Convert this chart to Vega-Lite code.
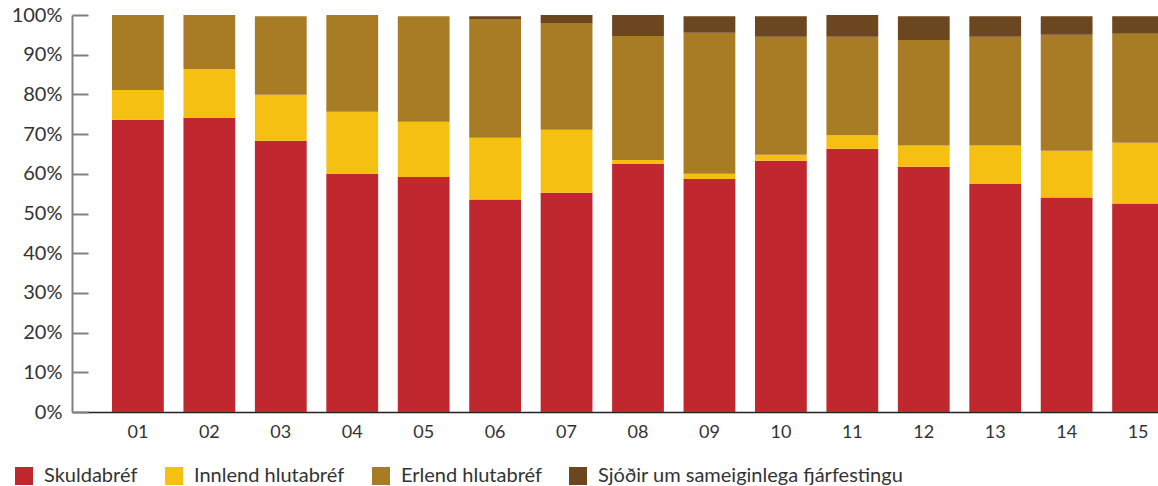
{
  "$schema": "https://vega.github.io/schema/vega-lite/v6.json",
  "autosize": {"type": "none"},
  "width": 1086,
  "height": 397,
  "padding": {"left": 72, "top": 15, "right": 0, "bottom": 74},
  "config": {
    "font": "Lato",
    "view": {"stroke": null},
    "axis": {"grid": false}
  },
  "data": {
    "values": [
      {"year": "01", "cat": "Skuldabréf", "v": 73.6},
      {"year": "01", "cat": "Innlend hlutabréf", "v": 7.5},
      {"year": "01", "cat": "Erlend hlutabréf", "v": 18.9},
      {"year": "02", "cat": "Skuldabréf", "v": 74.1},
      {"year": "02", "cat": "Innlend hlutabréf", "v": 12.3},
      {"year": "02", "cat": "Erlend hlutabréf", "v": 13.6},
      {"year": "03", "cat": "Skuldabréf", "v": 68.3},
      {"year": "03", "cat": "Innlend hlutabréf", "v": 11.6},
      {"year": "03", "cat": "Erlend hlutabréf", "v": 19.8},
      {"year": "04", "cat": "Skuldabréf", "v": 60.0},
      {"year": "04", "cat": "Innlend hlutabréf", "v": 15.6},
      {"year": "04", "cat": "Erlend hlutabréf", "v": 24.4},
      {"year": "05", "cat": "Skuldabréf", "v": 59.2},
      {"year": "05", "cat": "Innlend hlutabréf", "v": 13.9},
      {"year": "05", "cat": "Erlend hlutabréf", "v": 26.6},
      {"year": "06", "cat": "Skuldabréf", "v": 53.5},
      {"year": "06", "cat": "Innlend hlutabréf", "v": 15.6},
      {"year": "06", "cat": "Erlend hlutabréf", "v": 29.9},
      {"year": "06", "cat": "Sjóðir um sameiginlega fjárfestingu", "v": 0.7},
      {"year": "07", "cat": "Skuldabréf", "v": 55.2},
      {"year": "07", "cat": "Innlend hlutabréf", "v": 15.9},
      {"year": "07", "cat": "Erlend hlutabréf", "v": 26.9},
      {"year": "07", "cat": "Sjóðir um sameiginlega fjárfestingu", "v": 2.0},
      {"year": "08", "cat": "Skuldabréf", "v": 62.5},
      {"year": "08", "cat": "Innlend hlutabréf", "v": 1.0},
      {"year": "08", "cat": "Erlend hlutabréf", "v": 31.2},
      {"year": "08", "cat": "Sjóðir um sameiginlega fjárfestingu", "v": 5.3},
      {"year": "09", "cat": "Skuldabréf", "v": 58.7},
      {"year": "09", "cat": "Innlend hlutabréf", "v": 1.3},
      {"year": "09", "cat": "Erlend hlutabréf", "v": 35.5},
      {"year": "09", "cat": "Sjóðir um sameiginlega fjárfestingu", "v": 4.2},
      {"year": "10", "cat": "Skuldabréf", "v": 63.3},
      {"year": "10", "cat": "Innlend hlutabréf", "v": 1.5},
      {"year": "10", "cat": "Erlend hlutabréf", "v": 29.7},
      {"year": "10", "cat": "Sjóðir um sameiginlega fjárfestingu", "v": 5.2},
      {"year": "11", "cat": "Skuldabréf", "v": 66.3},
      {"year": "11", "cat": "Innlend hlutabréf", "v": 3.4},
      {"year": "11", "cat": "Erlend hlutabréf", "v": 24.8},
      {"year": "11", "cat": "Sjóðir um sameiginlega fjárfestingu", "v": 5.5},
      {"year": "12", "cat": "Skuldabréf", "v": 61.8},
      {"year": "12", "cat": "Innlend hlutabréf", "v": 5.3},
      {"year": "12", "cat": "Erlend hlutabréf", "v": 26.6},
      {"year": "12", "cat": "Sjóðir um sameiginlega fjárfestingu", "v": 6.0},
      {"year": "13", "cat": "Skuldabréf", "v": 57.4},
      {"year": "13", "cat": "Innlend hlutabréf", "v": 9.7},
      {"year": "13", "cat": "Erlend hlutabréf", "v": 27.4},
      {"year": "13", "cat": "Sjóðir um sameiginlega fjárfestingu", "v": 5.2},
      {"year": "14", "cat": "Skuldabréf", "v": 54.0},
      {"year": "14", "cat": "Innlend hlutabréf", "v": 11.8},
      {"year": "14", "cat": "Erlend hlutabréf", "v": 29.2},
      {"year": "14", "cat": "Sjóðir um sameiginlega fjárfestingu", "v": 4.7},
      {"year": "15", "cat": "Skuldabréf", "v": 52.5},
      {"year": "15", "cat": "Innlend hlutabréf", "v": 15.3},
      {"year": "15", "cat": "Erlend hlutabréf", "v": 27.5},
      {"year": "15", "cat": "Sjóðir um sameiginlega fjárfestingu", "v": 4.4}
    ]
  },
  "transform": [
    {"calculate": "indexof(['Skuldabréf','Innlend hlutabréf','Erlend hlutabréf','Sjóðir um sameiginlega fjárfestingu'], datum.cat)", "as": "idx"}
  ],
  "mark": {"type": "bar"},
  "encoding": {
    "x": {
      "field": "year",
      "type": "ordinal",
      "scale": {"range": [0, 1132], "paddingInner": 0.275, "paddingOuter": 0.56},
      "axis": {
        "title": null,
        "ticks": false,
        "domainColor": "#222222",
        "domainWidth": 1.5,
        "labelAngle": 0,
        "labelFontSize": 18,
        "labelColor": "#333333",
        "labelPadding": 11
      }
    },
    "y": {
      "field": "v",
      "type": "quantitative",
      "stack": "zero",
      "scale": {"domain": [0, 100], "nice": false},
      "axis": {
        "title": null,
        "values": [0, 10, 20, 30, 40, 50, 60, 70, 80, 90, 100],
        "labelExpr": "datum.value + '%'",
        "domainColor": "#808080",
        "domainWidth": 2,
        "tickColor": "#808080",
        "tickWidth": 2,
        "tickSize": -16,
        "labelFontSize": 20,
        "labelColor": "#333333",
        "labelPadding": 26
      }
    },
    "color": {
      "field": "cat",
      "type": "nominal",
      "scale": {
        "domain": ["Skuldabréf", "Innlend hlutabréf", "Erlend hlutabréf", "Sjóðir um sameiginlega fjárfestingu"],
        "range": ["#C1272F", "#F6C013", "#A87C25", "#6B461E"]
      },
      "legend": {
        "title": null,
        "orient": "none",
        "legendX": -58,
        "legendY": 451,
        "direction": "horizontal",
        "columns": 4,
        "symbolType": "square",
        "symbolSize": 324,
        "symbolStrokeWidth": 0,
        "symbolOpacity": 1,
        "labelFontSize": 20,
        "labelColor": "#333333",
        "labelOffset": 10,
        "columnPadding": 26,
        "padding": 0,
        "labelLimit": 500
      }
    },
    "order": {"field": "idx", "type": "quantitative", "sort": "ascending"}
  }
}
